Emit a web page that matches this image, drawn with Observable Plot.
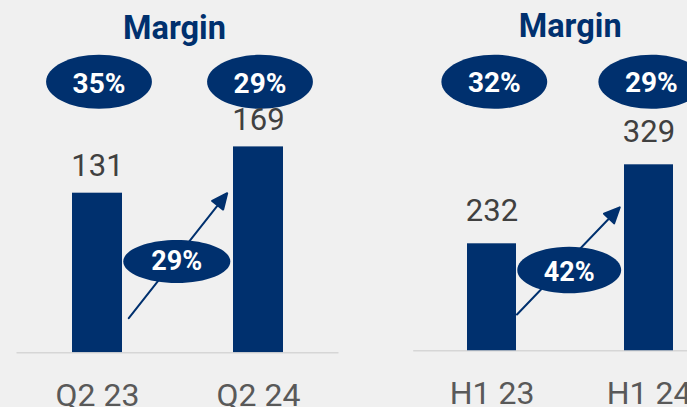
<!DOCTYPE html>
<html><head><meta charset="utf-8">
<script src="https://cdn.jsdelivr.net/npm/d3@7"></script>
<script src="https://cdn.jsdelivr.net/npm/@observablehq/plot@0.6"></script>
<style>
html,body{margin:0;padding:0;background:#f0f0f0;}
#chart{position:relative;width:687px;height:407px;overflow:hidden;background:#f0f0f0;}
#chart svg{position:absolute;left:0;top:0;max-width:none;background:transparent;overflow:hidden;}
</style></head><body><div id="chart"></div>
<script>
// ---- data ----
const panelTitle = "Margin";
const quarterCategories = ["Q2 23", "Q2 24"];
const quarterValues = [131, 169];
const quarterMargins = ["35%", "29%"];
const quarterGrowth = ["29%"];

const halfCategories = ["H1 23", "H1 24"];
const halfValues = [232, 329];
const halfMargins = ["32%", "29%"];
const halfGrowth = ["42%"];

// ---- styles ----
const navy = "#00306e";
const font = "Roboto, 'Liberation Sans', sans-serif";

function ellipse(aspect) {
  const k = 0.5523;
  return {draw(ctx, size) {
    const ry = Math.sqrt(size / Math.PI), rx = ry * aspect;
    ctx.moveTo(rx, 0);
    ctx.bezierCurveTo(rx, k * ry, k * rx, ry, 0, ry);
    ctx.bezierCurveTo(-k * rx, ry, -rx, k * ry, -rx, 0);
    ctx.bezierCurveTo(-rx, -k * ry, -k * rx, -ry, 0, -ry);
    ctx.bezierCurveTo(k * rx, -ry, rx, -k * ry, rx, 0);
    ctx.closePath();
  }};
}
const arrowShape = {draw(ctx, l, r) {
  const h = 2.2 * r, w = r;
  ctx.moveTo(0, 0);
  ctx.lineTo(0, -l + h);
  ctx.moveTo(-w, -l + h);
  ctx.lineTo(0, -l);
  ctx.lineTo(w, -l + h);
  ctx.closePath();
}};

function panel(cfg) {
  const rows = cfg.categories.map((c, i) => ({category: c, value: cfg.values[i], margin: cfg.margins[i]}));
  const growthRows = cfg.growth.map((g) => ({from: cfg.categories[0], label: g}));
  return Plot.plot({
    width: cfg.width, height: 407,
    marginTop: 0, marginLeft: cfg.marginLeft, marginRight: cfg.marginRight, marginBottom: cfg.marginBottom,
    style: {background: "transparent", fontFamily: font, maxWidth: "none", overflow: "hidden"},
    x: {type: "band", domain: cfg.categories, paddingInner: cfg.padding, paddingOuter: cfg.padding / 2, align: 0.5, label: null},
    y: {domain: cfg.yDomain, range: cfg.yRange, axis: null},
    marks: [
      Plot.ruleY([cfg.yDomain[0]], {stroke: "#d6d6d6", strokeWidth: 1.5}),
      Plot.barY(rows, {x: "category", y: "value", fill: navy, clip: true}),
      Plot.vector(growthRows, {x: "from", frameAnchor: "top", dx: cfg.arrowDx, dy: cfg.arrowDy,
        length: cfg.arrowLength, rotate: cfg.arrowRotate, anchor: "start", shape: arrowShape, r: 7,
        stroke: navy, fill: navy, strokeWidth: 2}),
      Plot.dot(growthRows, {frameAnchor: "top", dx: cfg.growthDx, dy: cfg.growthDy, r: cfg.growthRy,
        symbol: ellipse(cfg.growthAspect), fill: navy, stroke: null}),
      Plot.text(growthRows, {frameAnchor: "top", dx: cfg.growthDx, dy: cfg.growthTextDy, lineAnchor: "bottom",
        text: "label", fill: "white", fontWeight: "bold", fontSize: 27}),
      Plot.text([panelTitle], {frameAnchor: "top", dx: cfg.titleDx, dy: cfg.titleDy, lineAnchor: "bottom",
        text: (d) => d, fill: navy, fontWeight: "bold", fontSize: 32.5}),
      Plot.dot(rows, {x: "category", frameAnchor: "top", dx: cfg.marginDx, dy: 81.3, r: 27,
        symbol: ellipse(1.96), fill: navy, stroke: null}),
      Plot.text(rows, {x: "category", frameAnchor: "top", dx: cfg.marginDx, dy: cfg.marginTextDy, lineAnchor: "bottom",
        text: "margin", fill: "white", fontWeight: "bold", fontSize: 28}),
      Plot.text(rows, {x: "category", y: "value", dy: cfg.valueDy, lineAnchor: "bottom",
        text: (d) => String(d.value), fill: "#404040", fontSize: 31}),
      Plot.axisX({tickSize: 0, tickPadding: 30, fontSize: 32, fill: "#595959", label: null})
    ]
  });
}

const chart = document.getElementById("chart");
chart.append(panel({
  categories: quarterCategories, values: quarterValues, margins: quarterMargins, growth: quarterGrowth,
  width: 345, marginLeft: 16.5, marginRight: 6.5, marginBottom: 54.7, padding: 0.689,
  yDomain: [0, 169], yRange: [352.3, 146.4],
  titleDx: -3.5, titleDy: 38.3, marginDx: 1.5, marginTextDy: 92.3, valueDy: -17,
  growthDx: -1.2, growthDy: 261, growthRy: 21.5, growthAspect: 2.49, growthTextDy: 269.3,
  arrowDx: 31.3, arrowDy: 317.7, arrowLength: 159.1, arrowRotate: 38.2
}));
chart.append(panel({
  categories: halfCategories, values: halfValues, margins: halfMargins, growth: halfGrowth,
  width: 728, marginLeft: 413.2, marginRight: 0.8, marginBottom: 56.7, padding: 0.688,
  yDomain: [100.6, 329], yRange: [350.3, 164.3],
  titleDx: -0.5, titleDy: 36.7, marginDx: 2.3, marginTextDy: 91.7, valueDy: -23,
  growthDx: -1.5, growthDy: 269.5, growthRy: 23.3, growthAspect: 2.23, growthTextDy: 280.7,
  arrowDx: 25, arrowDy: 314, arrowLength: 148.4, arrowRotate: 43.8
}));
</script></body></html>
